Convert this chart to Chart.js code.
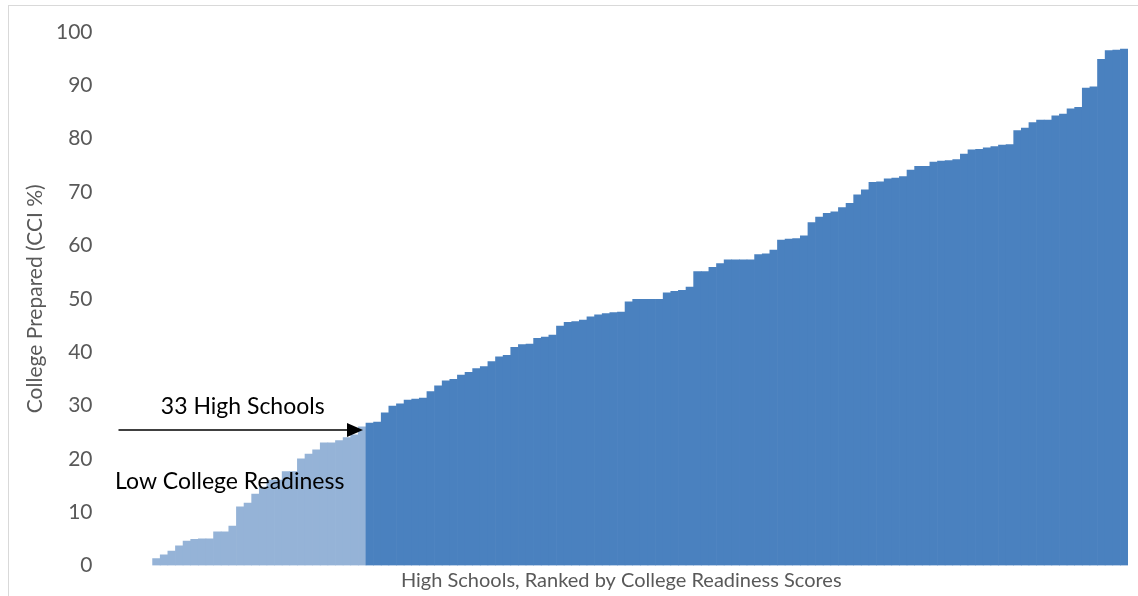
<!DOCTYPE html>
<html>
<head>
<meta charset="utf-8">
<script src="https://cdn.jsdelivr.net/npm/chart.js@4.4.1/dist/chart.umd.min.js"></script>
<style>
  html, body { margin: 0; padding: 0; background: #fff; }
  #wrap { width: 1138px; height: 596px; position: relative; }
</style>
</head>
<body>
<div id="wrap"><canvas id="cciChart"></canvas></div>
<script>
// CCI % for every high school, ranked from lowest to highest
const cciScores = [
  0, 0, 0, 0, 0, 1.3, 2.0, 2.7, 3.7, 4.6,
  4.9, 5.0, 5.0, 6.3, 6.3, 7.4, 11.0, 11.7, 13.4, 14.7,
  16.0, 16.0, 17.6, 17.6, 20.0, 20.9, 21.7, 23.0, 23.0, 23.4,
  24.0, 24.5, 26.0, 26.7, 26.9, 28.6, 29.9, 30.3, 31.0, 31.2,
  31.4, 32.6, 33.7, 34.6, 34.9, 35.7, 36.2, 36.9, 37.3, 38.2,
  39.1, 39.4, 40.9, 41.4, 41.5, 42.6, 42.8, 43.2, 44.9, 45.6,
  45.7, 46.0, 46.6, 47.0, 47.2, 47.4, 47.5, 49.4, 49.9, 49.9,
  49.9, 49.9, 51.1, 51.4, 51.6, 52.2, 55.1, 55.1, 55.9, 56.6,
  57.3, 57.3, 57.3, 57.3, 58.3, 58.4, 59.1, 61.0, 61.2, 61.3,
  61.8, 64.3, 65.3, 66.0, 66.3, 67.1, 67.9, 69.5, 70.4, 71.8,
  71.9, 72.5, 72.6, 72.9, 74.1, 74.8, 74.8, 75.6, 75.8, 75.9,
  76.1, 77.1, 77.9, 78.0, 78.3, 78.5, 78.8, 78.9, 81.5, 82.0,
  83.0, 83.5, 83.5, 84.3, 84.6, 85.6, 85.9, 89.5, 89.7, 94.9,
  96.5, 96.6, 96.8
];
const schoolRanks = cciScores.map((_, i) => i + 1);
const lowReadinessCount = 33;
const yTicks = [0, 10, 20, 30, 40, 50, 60, 70, 80, 90, 100];

const lowColor = "#95B3D7";
const mainColor = "#4A81BF";
const axisGray = "#595959";
const fontFamily = "Lato, 'Open Sans', sans-serif";

// light frame round the chart
const framePlugin = {
  id: "frame",
  beforeDraw(chart) {
    const ctx = chart.ctx;
    ctx.save();
    ctx.fillStyle = "#fff";
    ctx.fillRect(0, 0, chart.width, chart.height);
    ctx.strokeStyle = "#D9D9D9";
    ctx.lineWidth = 1;
    ctx.strokeRect(8.5, 5.5, chart.width + 10, chart.height + 10);
    ctx.restore();
  }
};

// arrow + labels marking the low readiness group
const lowGroupPlugin = {
  id: "lowGroup",
  afterDatasetsDraw(chart) {
    const { ctx, chartArea, scales } = chart;
    const x = scales.x, y = scales.y;
    const barW = x.getPixelForValue(1) - x.getPixelForValue(0);
    const endX = x.getPixelForValue(lowReadinessCount - 1) + barW / 2 - 3;
    const startX = chartArea.left + 4;
    const arrowY = y.getPixelForValue(25.4);

    ctx.save();
    ctx.strokeStyle = "#000";
    ctx.fillStyle = "#000";
    ctx.lineWidth = 1.5;
    ctx.beginPath();
    ctx.moveTo(startX, arrowY);
    ctx.lineTo(endX - 12, arrowY);
    ctx.stroke();
    ctx.beginPath();
    ctx.moveTo(endX, arrowY);
    ctx.lineTo(endX - 16, arrowY - 7);
    ctx.lineTo(endX - 16, arrowY + 7);
    ctx.closePath();
    ctx.fill();

    ctx.font = "23px " + fontFamily;
    ctx.textAlign = "center";
    ctx.textBaseline = "middle";
    ctx.fillText(lowReadinessCount + " High Schools", (startX + endX) / 2 + 2, arrowY - 23);
    ctx.fillText("Low College Readiness", (startX + endX) / 2 - 11, y.getPixelForValue(15.7));
    ctx.restore();
  }
};

new Chart(document.getElementById("cciChart"), {
  type: "bar",
  data: {
    labels: schoolRanks,
    datasets: [{
      data: cciScores,
      // empty schools get no visible sliver on the baseline
      backgroundColor: cciScores.map((v, i) =>
        v === 0 ? "rgba(0,0,0,0)" : (i < lowReadinessCount ? lowColor : mainColor)),
      borderWidth: 0,
      barPercentage: 1,
      categoryPercentage: 1
    }]
  },
  options: {
    responsive: true,
    maintainAspectRatio: false,
    animation: false,
    layout: { padding: { left: 0, right: 10, top: 32, bottom: 0 } },
    plugins: {
      legend: { display: false },
      tooltip: { enabled: false }
    },
    scales: {
      x: {
        grid: { display: false },
        border: { display: false },
        ticks: { display: false },
        title: {
          display: true,
          text: "High Schools, Ranked by College Readiness Scores",
          color: axisGray,
          font: { family: fontFamily, size: 20 },
          padding: { top: 0, bottom: 3 }
        },
        afterFit(scale) { scale.height = 30.5; }
      },
      y: {
        min: 0,
        max: 100,
        grid: { display: false, drawTicks: false },
        border: { display: false },
        afterBuildTicks(scale) {
          scale.ticks = yTicks.map(v => ({ value: v }));
        },
        ticks: {
          color: axisGray,
          padding: 22,
          font: { family: fontFamily, size: 21 }
        },
        title: {
          display: true,
          text: "College Prepared (CCI %)",
          color: axisGray,
          font: { family: fontFamily, size: 21 },
          padding: { top: 23, bottom: 0 }
        },
        afterFit(scale) {
          scale.width = 114.5;
          // labels have room outside the plot already
          scale.paddingTop = 0;
          scale.paddingBottom = 0;
        }
      }
    }
  },
  plugins: [framePlugin, lowGroupPlugin]
});
</script>
</body>
</html>
